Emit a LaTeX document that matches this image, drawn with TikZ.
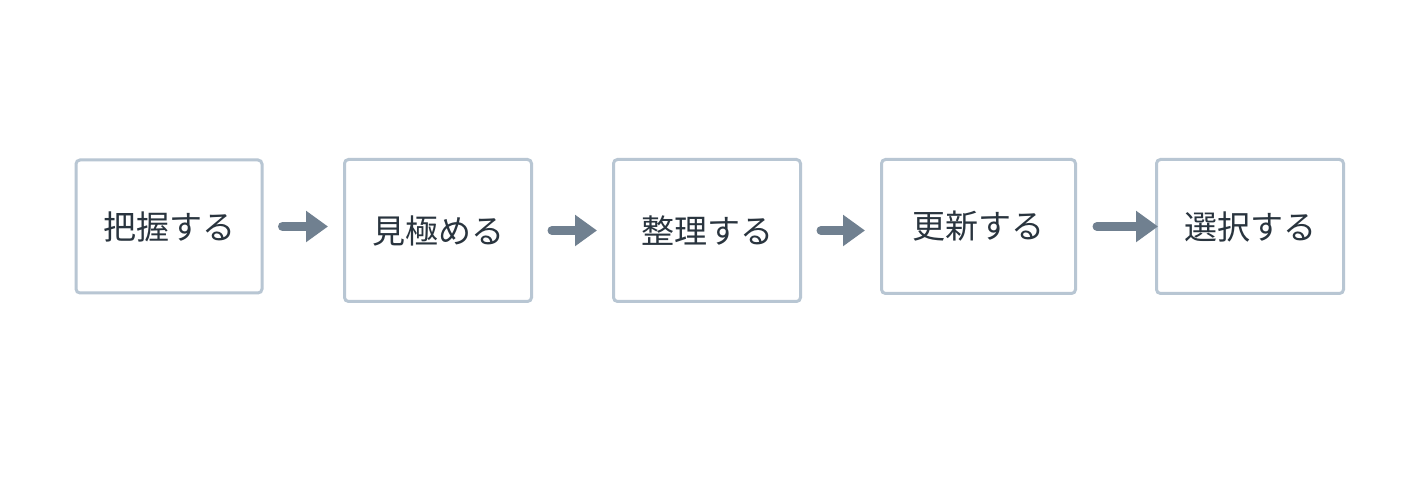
\documentclass[tikz,border=0pt]{standalone}
\usepackage{fontspec}
\newfontfamily\jpfont{Noto Sans CJK JP}
\usetikzlibrary{arrows.meta}
\definecolor{boxline}{HTML}{B8C6D3}
\definecolor{arrowcol}{HTML}{708090}
\definecolor{textcol}{HTML}{29343E}
\begin{document}
\begin{tikzpicture}[x=1pt,y=1pt,
  stepbox/.style={draw=boxline, line width=3pt, rounded corners=4pt, fill=white,
    inner sep=0pt, text=textcol, font=\jpfont\fontsize{33}{39}\selectfont},
  flowarrow/.style={draw=arrowcol, line width=9pt, line cap=round,
    -{Triangle[length=22pt,width=30pt]}}]
\useasboundingbox[fill=white] (0,0) rectangle (1416,481);
\node[stepbox, minimum width=186pt, minimum height=133pt] (b1) at (169,254.5) {把握する};
\node[stepbox, minimum width=187pt, minimum height=142pt] (b2) at (438,250.5) {見極める};
\node[stepbox, minimum width=187pt, minimum height=142pt] (b3) at (707,250.5) {整理する};
\node[stepbox, minimum width=194pt, minimum height=134pt] (b4) at (978.5,254.5) {更新する};
\node[stepbox, minimum width=187pt, minimum height=134pt] (b5) at (1250,254.5) {選択する};
\coordinate (e1) at ([xshift=-15pt]b1.east -| b2.west);
\coordinate (e2) at ([xshift=-15pt]b2.east -| b3.west);
\coordinate (e3) at ([xshift=-15pt]b3.east -| b4.west);
\coordinate (e4) at ([xshift=3pt]b4.east -| b5.west);
\draw[flowarrow] ([xshift=19pt]b1.east) -- (e1);
\draw[flowarrow] ([xshift=19pt]b2.east) -- (e2);
\draw[flowarrow] ([xshift=19pt]b3.east) -- (e3);
\draw[flowarrow] ([xshift=20pt]b4.east) -- (e4);
\end{tikzpicture}
\end{document}
